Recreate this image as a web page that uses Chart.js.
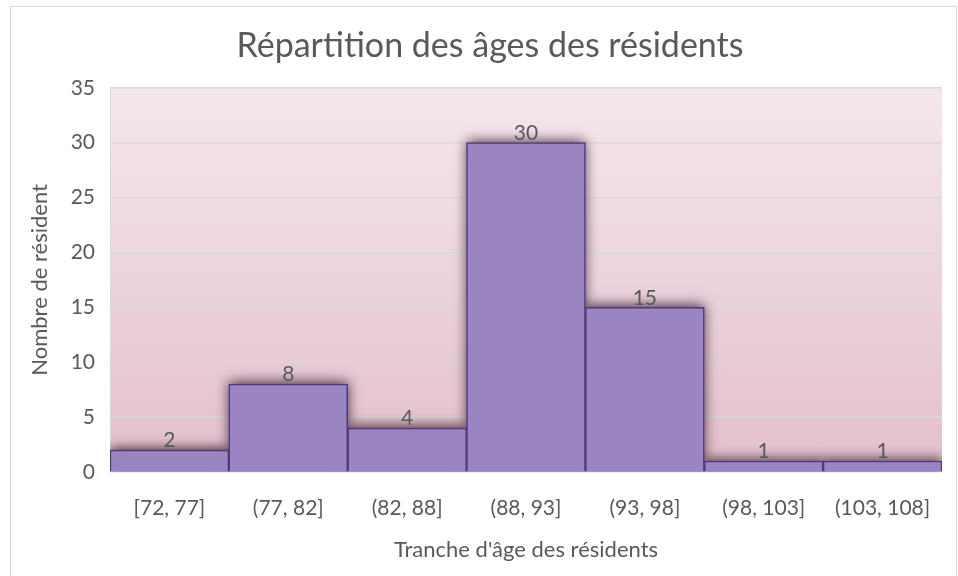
<!DOCTYPE html>
<html lang="fr">
<head>
<meta charset="utf-8">
<script src="https://cdn.jsdelivr.net/npm/chart.js@4/dist/chart.umd.min.js"></script>
<style>
    html, body { margin: 0; padding: 0; background: #fff; }
    #wrap { position: relative; width: 958px; height: 576px; }
</style>
</head>
<body>
<div id="wrap"><canvas id="hist"></canvas></div>
<script>
// Tranches d'âge et effectifs
const categories = ['[72, 77]', '(77, 82]', '(82, 88]', '(88, 93]', '(93, 98]', '(98, 103]', '(103, 108]'];
const counts = [2, 8, 4, 30, 15, 1, 1];
const yTicks = [0, 5, 10, 15, 20, 25, 30, 35];

const TEXT = '#595959';
const FONT = 'Lato, "Open Sans", sans-serif';
const BAR_FILL = '#9b84c2';

// cadre + fond dégradé de la zone de tracé
const backdrop = {
    id: 'backdrop',
    beforeDraw(chart) {
        const { ctx, chartArea: a } = chart;
        ctx.save();
        ctx.strokeStyle = '#d9d9d9';
        ctx.lineWidth = 1;
        ctx.strokeRect(10.5, 6.5, 946, 600);
        const g = ctx.createLinearGradient(0, a.top, 0, a.bottom);
        g.addColorStop(0, '#f5e7ed');
        g.addColorStop(1, '#e3bfcc');
        ctx.fillStyle = g;
        ctx.fillRect(a.left, a.top, a.right - a.left, a.bottom - a.top);
        ctx.restore();
    }
};

// ombre des barres : on repeint chaque barre avec une ombre floue avant le tracé normal
const barShadow = {
    id: 'barShadow',
    beforeDatasetsDraw(chart) {
        const { ctx, chartArea: a } = chart;
        const meta = chart.getDatasetMeta(0);
        ctx.save();
        ctx.beginPath();
        ctx.rect(a.left, a.top - 20, a.right - a.left, a.bottom - a.top + 20);
        ctx.clip();
        ctx.shadowColor = 'rgba(30, 10, 30, 0.8)';
        ctx.shadowBlur = 12;
        ctx.shadowOffsetY = -2;
        ctx.fillStyle = BAR_FILL;
        meta.data.forEach(bar => {
            const { x, y, base, width } = bar.getProps(['x', 'y', 'base', 'width'], true);
            ctx.fillRect(x - width / 2, y, width, base - y);
        });
        ctx.restore();
    }
};

// étiquettes de valeurs au-dessus des barres
const valueLabels = {
    id: 'valueLabels',
    afterDatasetsDraw(chart) {
        const ctx = chart.ctx;
        const meta = chart.getDatasetMeta(0);
        ctx.save();
        ctx.fillStyle = TEXT;
        ctx.font = '21px ' + FONT;
        ctx.textAlign = 'center';
        ctx.textBaseline = 'bottom';
        meta.data.forEach((bar, i) => {
            ctx.fillText(String(counts[i]), bar.x, bar.y + 1);
        });
        ctx.restore();
    }
};

new Chart(document.getElementById('hist'), {
    type: 'bar',
    data: {
        labels: categories,
        datasets: [{
            data: counts,
            backgroundColor: BAR_FILL,
            borderColor: '#50377a',
            borderWidth: 1.5,
            borderSkipped: 'bottom',
            categoryPercentage: 1,
            barPercentage: 1
        }]
    },
    options: {
        responsive: true,
        maintainAspectRatio: false,
        animation: false,
        // marge gauche plus grande pour recentrer le titre comme dans l'original
        layout: { padding: { left: 38, right: 16, top: 8, bottom: 0 } },
        plugins: {
            legend: { display: false },
            tooltip: { enabled: false },
            title: {
                display: true,
                text: 'Répartition des âges des résidents',
                color: TEXT,
                font: { family: FONT, size: 34, weight: 'normal' },
                padding: { top: 18, bottom: 21 }
            }
        },
        scales: {
            x: {
                afterFit(scale) { scale.height = 104; },
                grid: { display: false, drawTicks: false },
                border: { display: false },
                ticks: { color: TEXT, font: { family: FONT, size: 21 }, padding: 24, maxRotation: 0 },
                title: {
                    display: true,
                    text: "Tranche d'âge des résidents",
                    color: TEXT,
                    font: { family: FONT, size: 22 },
                    padding: { top: 0, bottom: 13 }
                }
            },
            y: {
                min: 0,
                max: 35,
                afterBuildTicks(scale) {
                    scale.ticks = yTicks.map(v => ({ value: v }));
                },
                afterFit(scale) { scale.width = 72; },
                grid: { color: '#d9d9d9', lineWidth: 1.5, drawTicks: false },
                border: { display: true, color: '#d9d9d9' },
                ticks: { color: TEXT, font: { family: FONT, size: 21 }, padding: 15 },
                title: {
                    display: true,
                    text: 'Nombre de résident',
                    color: TEXT,
                    font: { family: FONT, size: 22 },
                    padding: { top: -11, bottom: 0 }
                }
            }
        }
    },
    plugins: [backdrop, barShadow, valueLabels]
});
</script>
</body>
</html>
